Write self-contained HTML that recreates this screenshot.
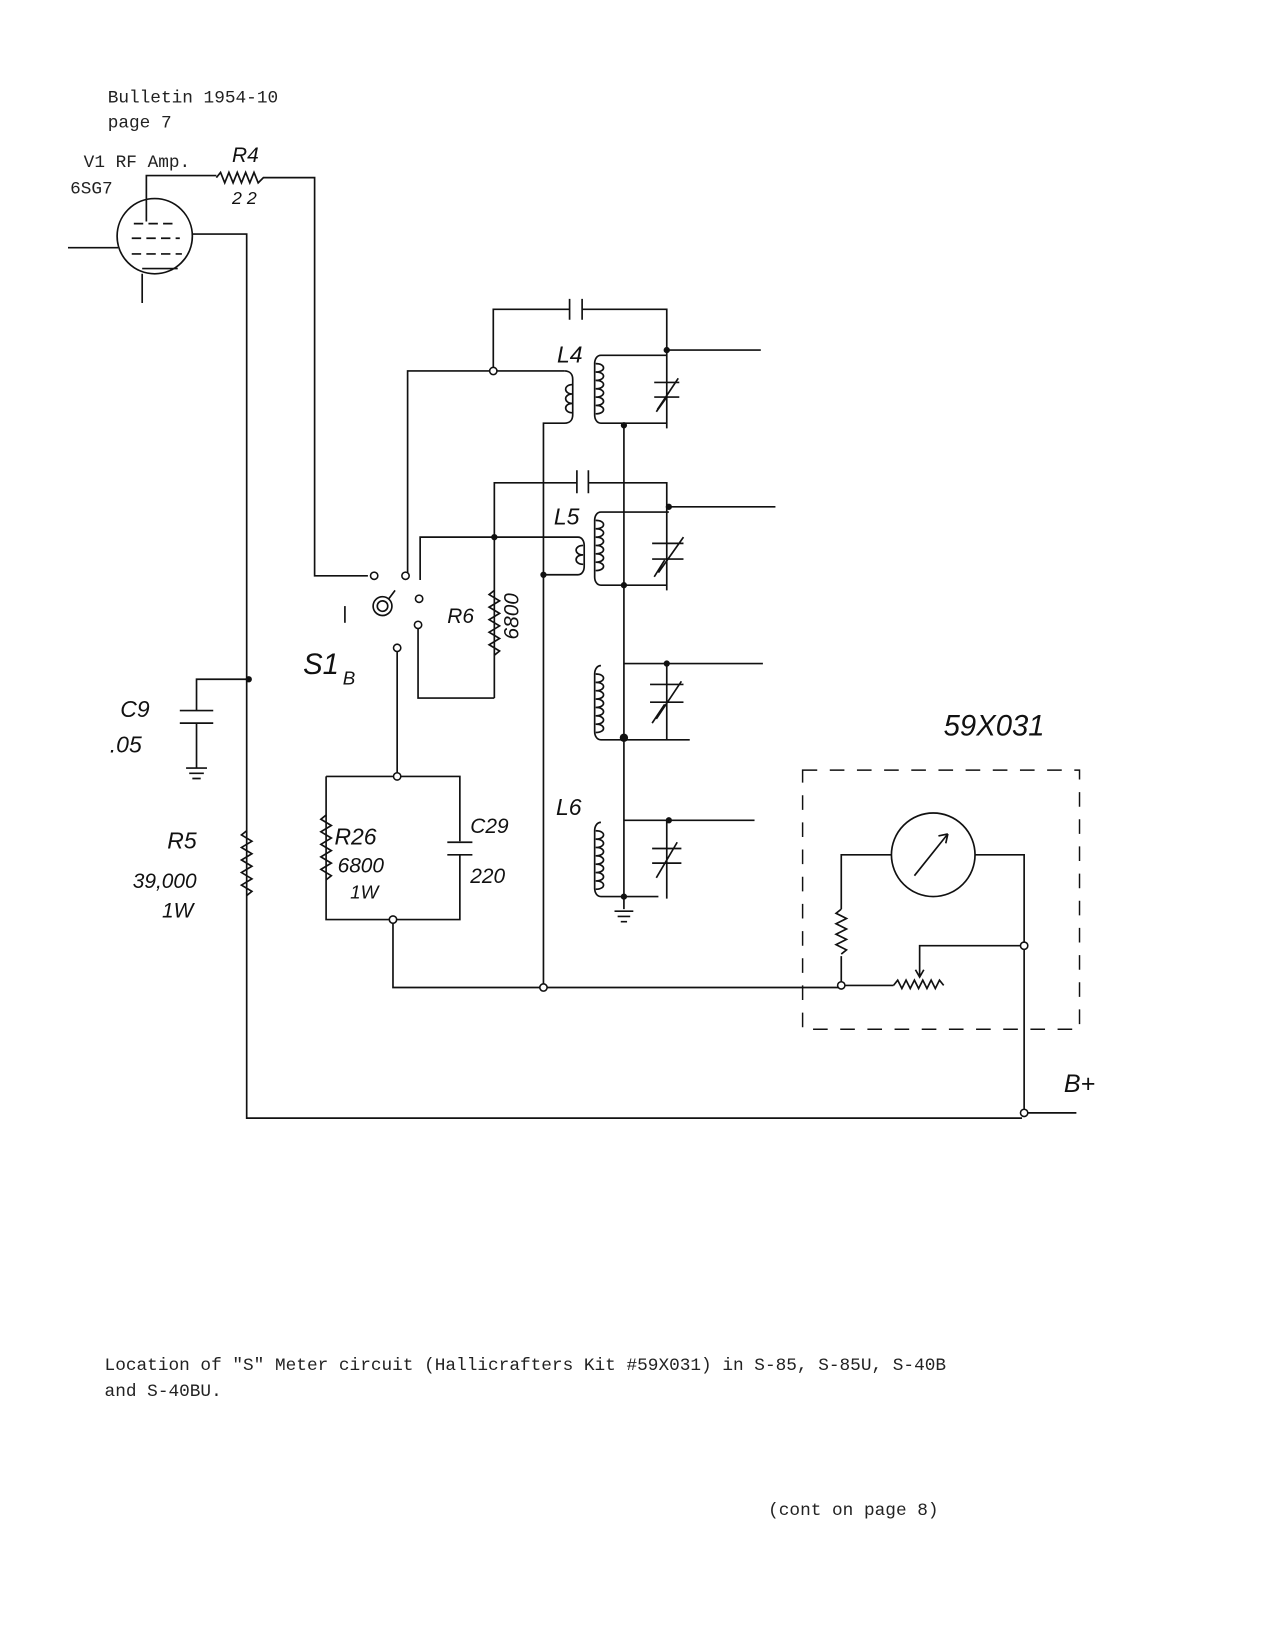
<!DOCTYPE html>
<html><head><meta charset="utf-8"><style>
html,body{margin:0;padding:0;background:#fff}
svg{display:block}
.t{font-family:"Liberation Mono",monospace;font-size:17px;fill:#222}
.h{font-family:"Liberation Sans",sans-serif;fill:#111;font-style:italic}
</style></head><body>
<svg width="1275" height="1650" viewBox="0 0 1220 1579" xmlns="http://www.w3.org/2000/svg">
<rect width="1220" height="1579" fill="#fff"/>
<g fill="none" stroke="#111" stroke-width="1.6">
<!-- tube -->
<circle cx="148" cy="226" r="36"/>
<path d="M128 214h40M126 228h46M126 243h48" stroke-dasharray="9 5"/>
<path d="M140 212V168h67"/>
<path d="M136 262v28M136 257h34"/>
<path d="M65 237h48"/>
<path d="M184 224h52V1070h742"/>
<!-- R4 -->
<path d="M207 170l4 -5l4 10l4 -10l4 10l4 -10l4 10l4 -10l4 10l4 -10l4 10l5 -5h49V551h51"/>
<!-- L4 -->
<path d="M472 355V296h73M545 286v20M557 286v20M557 296h81V410"/>
<path d="M390 551V355h150"/>
<path d="M540 355c6 0 8 4 8 8v34c0 4-2 8-8 8h-20V945"/>
<path d="M548 368c-9 0-9 9 0 9c-9 0-9 9 0 9c-9 0-9 9 0 9"/>
<path d="M575 340c-4 0-6 4-6 8v49c0 4 2 8 6 8h63M575 340h63M638 335h90"/>
<path d="M570 348c10 0 10 8 0 8c10 0 10 8 0 8c10 0 10 8 0 8c10 0 10 8 0 8c10 0 10 8 0 8c10 0 10 8 0 8"/>
<path d="M626 366h24M626 380h24M629 392l20-30M628 394l10-14"/>
<path d="M597 407V858"/>
<!-- L5 -->
<path d="M473 668V462h79M552 450v22M563 450v22M563 462h75V565"/>
<path d="M402 555V514h151c4 0 6 4 6 8v20c0 4-2 8-6 8h-33"/>
<path d="M558 522c-9 0-9 9 0 9c-9 0-9 9 0 9"/>
<path d="M575 490c-4 0-6 4-6 8v54c0 4 2 8 6 8h63M575 490h65M640 485h102"/>
<path d="M570 498c10 0 10 8 0 8c10 0 10 8 0 8c10 0 10 8 0 8c10 0 10 8 0 8c10 0 10 8 0 8c10 0 10 8 0 8"/>
<path d="M624 520h30M624 535h30M630 548l24-34M626 552l10-16"/>
<path d="M400 598v70h73"/>
<path d="M473 565l-5 4l10 6l-10 6l10 6l-10 6l10 6l-10 6l10 6l-10 6l10 6l-5 4"/>
<!-- L3rd -->
<path d="M575 637c-4 0-6 4-6 8v55c0 4 2 8 6 8h85M597 635h133"/>
<path d="M570 645c10 0 10 8 0 8c10 0 10 8 0 8c10 0 10 8 0 8c10 0 10 8 0 8c10 0 10 8 0 8c10 0 10 8 0 8c10 0 10 8 0 8"/>
<path d="M638 635V708M622 655h32M622 672h32M628 688l24-36M624 692l12-18"/>
<!-- L6 -->
<path d="M575 787c-4 0-6 4-6 8v55c0 4 2 8 6 8h55M597 785h125"/>
<path d="M570 795c10 0 10 8 0 8c10 0 10 8 0 8c10 0 10 8 0 8c10 0 10 8 0 8c10 0 10 8 0 8c10 0 10 8 0 8c10 0 10 8 0 8"/>
<path d="M638 785V860M624 812h28M624 826h28M628 840l20-34"/>
<path d="M597 858v12M588 872h18M591 877h12M594 882h6"/>
<!-- switch -->
<circle cx="366" cy="580" r="9"/><circle cx="366" cy="580" r="5"/>
<path d="M372 573l6-8"/>
<path d="M330 580v16"/>
<path d="M380 624V743"/>
<!-- R26 / C29 box -->
<path d="M312 743h128v62M440 818v62H312V743"/>
<path d="M312 780l-5 4l10 6l-10 6l10 6l-10 6l10 6l-10 6l10 6l-10 6l10 6l-5 4"/>
<path d="M428 806h24M428 818h24"/>
<path d="M376 880v65h429"/>
<!-- C9 -->
<path d="M238 650h-50v30M172 680h32M172 692h32M188 692v43M178 735h20M181 740h14M184 745h8"/>
<!-- R5 -->
<path d="M236 795l-5 4l10 6l-10 6l10 6l-10 6l10 6l-10 6l10 6l-10 6l10 6l-5 4"/>
<!-- box -->
<path d="M768 737h265v248H768Z" stroke-dasharray="14 12" stroke-width="1.4"/>
<circle cx="893" cy="818" r="40"/>
<path d="M875 838l32-40M907 798l-9 2M907 798l-2 9"/>
<path d="M853 818h-48v52M805 915v28h50"/>
<path d="M805 870l-5 4l10 5l-10 5l10 5l-10 5l10 5l-10 5l10 5l-5 4"/>
<path d="M855 943l4-5l4 8l4-8l4 8l4-8l4 8l4-8l4 8l4-8l4 8l4-8l4 5"/>
<path d="M880 935v-30h100M876 928l4 7l4-7"/>
<path d="M933 818h47v247M980 1065h50"/>
</g>
<g fill="#111">
<circle cx="638" cy="335" r="3"/><circle cx="597" cy="407" r="3"/>
<circle cx="640" cy="485" r="3"/><circle cx="597" cy="560" r="3"/>
<circle cx="473" cy="514" r="3"/><circle cx="638" cy="635" r="3"/>
<circle cx="640" cy="785" r="3"/><circle cx="597" cy="858" r="3"/>
<circle cx="238" cy="650" r="3"/><circle cx="520" cy="550" r="3"/>
<circle cx="597" cy="706" r="4"/>
</g>
<g fill="#fff" stroke="#111" stroke-width="1.5">
<circle cx="472" cy="355" r="3.5"/><circle cx="358" cy="551" r="3.5"/>
<circle cx="388" cy="551" r="3.5"/><circle cx="401" cy="573" r="3.5"/>
<circle cx="400" cy="598" r="3.5"/><circle cx="380" cy="620" r="3.5"/>
<circle cx="380" cy="743" r="3.5"/><circle cx="376" cy="880" r="3.5"/>
<circle cx="520" cy="945" r="3.5"/><circle cx="805" cy="943" r="3.5"/>
<circle cx="980" cy="905" r="3.5"/><circle cx="980" cy="1065" r="3.5"/>
</g>
<text class="t" x="103" y="98">Bulletin 1954-10</text>
<text class="t" x="103" y="122">page 7</text>
<text class="t" x="80" y="160">V1  RF Amp.</text>
<text class="t" x="67" y="185">6SG7</text>
<text class="h" x="222" y="155" font-size="20">R4</text>
<text class="h" x="222" y="195" font-size="17">2 2</text>
<text class="h" x="533" y="347" font-size="22">L4</text>
<text class="h" x="530" y="502" font-size="22">L5</text>
<text class="h" x="532" y="780" font-size="22">L6</text>
<text class="h" x="428" y="596" font-size="20">R6</text>
<text class="h" font-size="20" transform="translate(496,612) rotate(-90)">6800</text>
<text class="h" x="290" y="645" font-size="28">S1</text>
<text class="h" x="328" y="655" font-size="18">B</text>
<text class="h" x="115" y="686" font-size="22">C9</text>
<text class="h" x="105" y="720" font-size="22">.05</text>
<text class="h" x="160" y="812" font-size="22">R5</text>
<text class="h" x="127" y="850" font-size="20">39,000</text>
<text class="h" x="155" y="878" font-size="20">1W</text>
<text class="h" x="320" y="808" font-size="22">R26</text>
<text class="h" x="323" y="835" font-size="20">6800</text>
<text class="h" x="335" y="860" font-size="18">1W</text>
<text class="h" x="450" y="797" font-size="20">C29</text>
<text class="h" x="450" y="845" font-size="20">220</text>
<text class="h" x="903" y="704" font-size="28">59X031</text>
<text class="h" x="1018" y="1045" font-size="24">B+</text>
<text class="t" x="100" y="1311">Location of "S" Meter circuit (Hallicrafters Kit #59X031) in S-85, S-85U, S-40B</text>
<text class="t" x="100" y="1336">and S-40BU.</text>
<text class="t" x="735" y="1450">(cont on page 8)</text>
</svg>
</body></html>
